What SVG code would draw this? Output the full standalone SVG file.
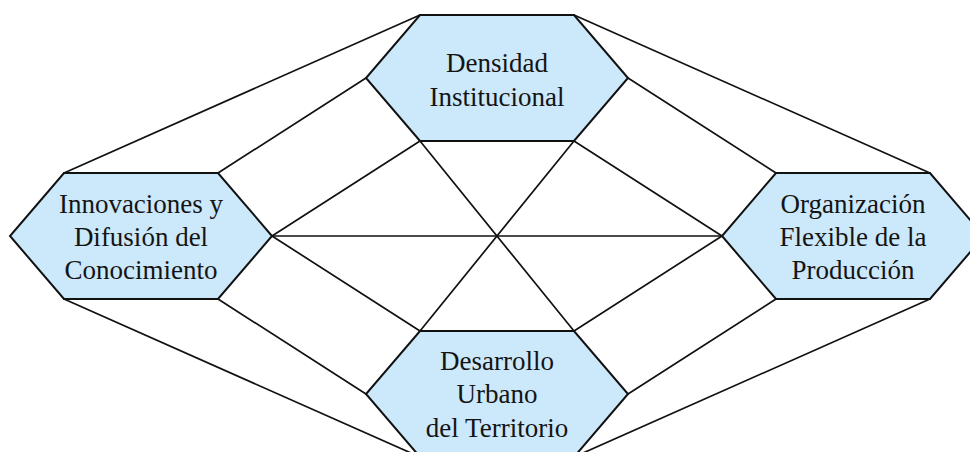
<svg xmlns="http://www.w3.org/2000/svg" width="970" height="452" viewBox="0 0 970 452">
<style>
.bg{fill:#ffffff}
.ln{stroke:#111;stroke-width:1.7;fill:none;stroke-linecap:round}
.hex{fill:#cce8fb;stroke:#111;stroke-width:2;stroke-linejoin:miter}
.t{font-family:"Liberation Serif","Times New Roman",serif;font-size:27px;fill:#141414;text-anchor:middle}
</style>
<rect class="bg" x="0" y="0" width="970" height="452"/>
<g id="connectors">
<line class="ln" x1="64" y1="173" x2="420" y2="15"/>
<line class="ln" x1="218" y1="173" x2="366" y2="78"/>
<line class="ln" x1="574" y1="15" x2="930" y2="173"/>
<line class="ln" x1="628" y1="78" x2="776" y2="173"/>
<line class="ln" x1="64" y1="299" x2="420" y2="457"/>
<line class="ln" x1="218" y1="299" x2="366" y2="394"/>
<line class="ln" x1="930" y1="299" x2="574" y2="457"/>
<line class="ln" x1="776" y1="299" x2="628" y2="394"/>
<line class="ln" x1="272" y1="236" x2="722" y2="236"/>
<line class="ln" x1="420" y1="141" x2="574" y2="331"/>
<line class="ln" x1="574" y1="141" x2="420" y2="331"/>
<line class="ln" x1="272" y1="236" x2="420" y2="141"/>
<line class="ln" x1="272" y1="236" x2="420" y2="331"/>
<line class="ln" x1="722" y1="236" x2="574" y2="141"/>
<line class="ln" x1="722" y1="236" x2="574" y2="331"/>
</g>
<g id="densidad">
<polygon class="hex" points="420,15 574,15 628,78 574,141 420,141 366,78"/>
<text class="t" x="497" y="72">Densidad</text>
<text class="t" x="497" y="106">Institucional</text>
</g>
<g id="innovaciones">
<polygon class="hex" points="64,173 218,173 272,236 218,299 64,299 10,236"/>
<text class="t" x="141" y="213">Innovaciones y</text>
<text class="t" x="141" y="246">Difusión del</text>
<text class="t" x="141" y="279">Conocimiento</text>
</g>
<g id="organizacion">
<polygon class="hex" points="776,173 930,173 984,236 930,299 776,299 722,236"/>
<text class="t" x="853" y="213">Organización</text>
<text class="t" x="853" y="246">Flexible de la</text>
<text class="t" x="853" y="279">Producción</text>
</g>
<g id="desarrollo">
<polygon class="hex" points="420,331 574,331 628,394 574,457 420,457 366,394"/>
<text class="t" x="497" y="370">Desarrollo</text>
<text class="t" x="497" y="403">Urbano</text>
<text class="t" x="497" y="437">del Territorio</text>
</g>
</svg>
